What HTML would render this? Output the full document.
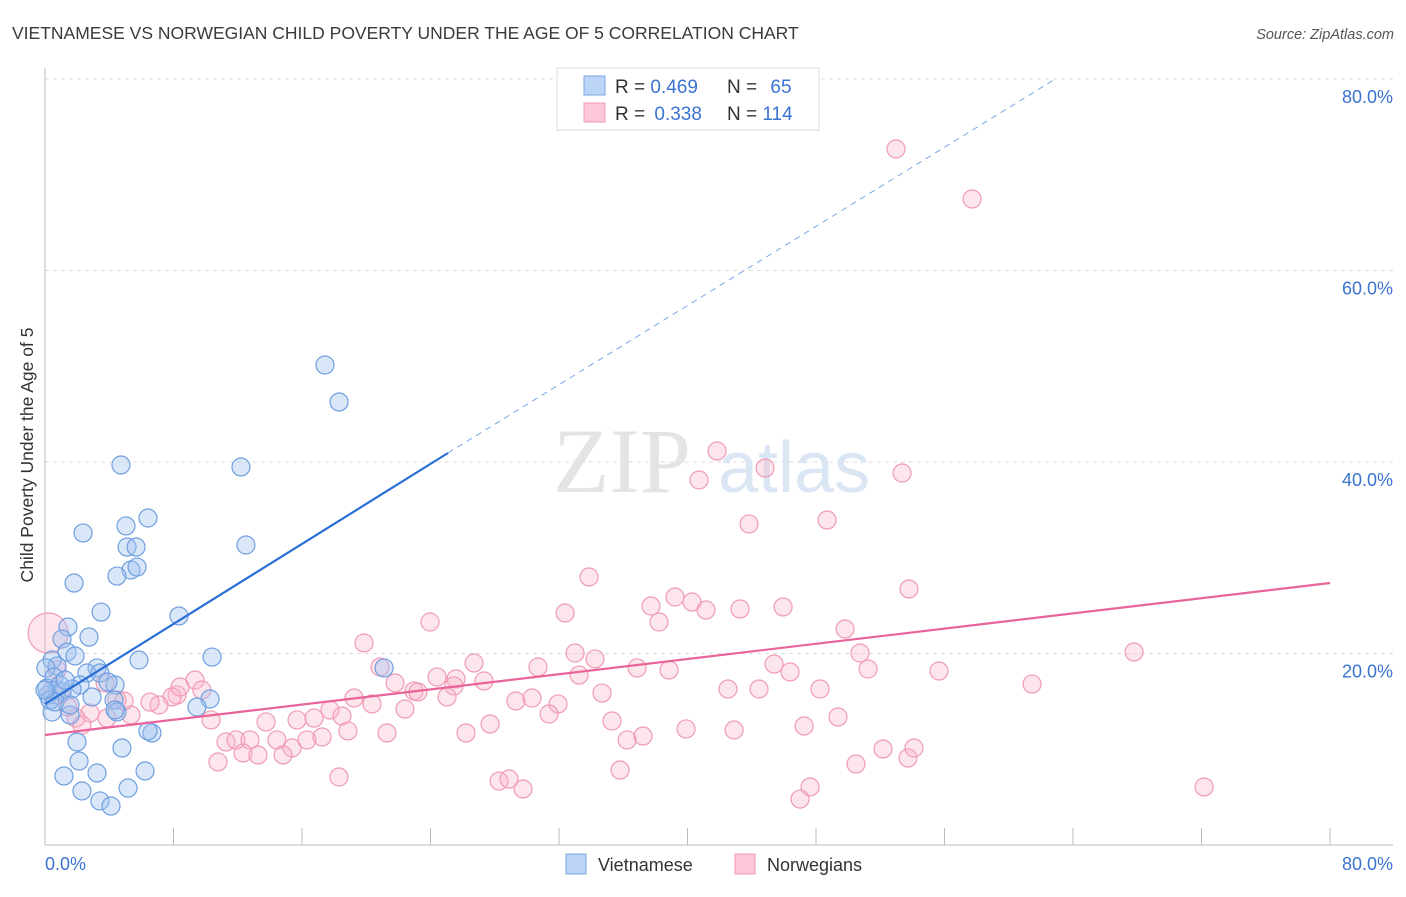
<!DOCTYPE html>
<html><head><meta charset="utf-8"><style>
body{margin:0;background:#fff;font-family:"Liberation Sans",sans-serif}
</style></head><body>
<svg id="chart" width="1406" height="892" xmlns="http://www.w3.org/2000/svg" font-family="Liberation Sans, sans-serif">
<text x="12" y="39" font-size="17.5" fill="#3a3a3a">VIETNAMESE VS NORWEGIAN CHILD POVERTY UNDER THE AGE OF 5 CORRELATION CHART</text>
<text x="1394" y="39" font-size="14.5" fill="#555" font-style="italic" text-anchor="end">Source: ZipAtlas.com</text>
<g id="grid"></g>
<g><text x="553" y="492" font-size="92" fill="#e4e4e4" font-family="Liberation Serif, serif">ZIP</text><text x="718" y="492" font-size="72" fill="#dbe6f5">atlas</text></g>
<g id="axes"></g>
<g id="marks"></g>
<g id="trends"></g>
<text transform="translate(33,455) rotate(-90)" font-size="17.5" fill="#333" text-anchor="middle">Child Poverty Under the Age of 5</text>
<g>
<rect x="557" y="68" width="262" height="62" fill="#fff" stroke="#ddd"/>
<rect x="584" y="76" width="21" height="19" fill="#bcd4f6" stroke="#7aa6e6"/>
<rect x="584" y="103" width="21" height="19" fill="#fcc8d8" stroke="#f09ab6"/>
<text x="615" y="93" font-size="19" fill="#333">R = <tspan fill="#3b73d1">0.469</tspan></text>
<text x="727" y="93" font-size="19" fill="#333">N = <tspan fill="#3b73d1" dx="8">65</tspan></text>
<text x="615" y="120" font-size="19" fill="#333">R = <tspan fill="#3b73d1" dx="4">0.338</tspan></text>
<text x="727" y="120" font-size="19" fill="#333">N = <tspan fill="#3b73d1">114</tspan></text>
</g>
<g>
<rect x="566" y="854" width="20" height="20" fill="#bcd4f6" stroke="#7aa6e6"/>
<text x="598" y="871" font-size="18" fill="#333">Vietnamese</text>
<rect x="735" y="854" width="20" height="20" fill="#fcc8d8" stroke="#f09ab6"/>
<text x="767" y="871" font-size="18" fill="#333">Norwegians</text>
</g>
</svg>
<script>
const blueX=[17.43,18.31,4.73,12.20,12.51,6.41,5.04,2.37,5.11,5.67,5.35,5.73,4.48,1.81,3.49,8.34,1.43,1.06,2.74,1.37,1.87,10.40,5.85,21.11,0.44,0.75,3.24,0.06,2.61,3.42,0.56,2.18,4.36,3.92,0.75,1.68,0.19,1.06,2.93,10.27,4.30,9.46,0.44,4.48,1.56,6.66,6.41,1.99,4.79,2.12,1.18,3.24,6.23,2.30,5.17,3.42,4.11,0.12,0.93,0.31,0.62,1.25,4.36,1.56,0.0];
const blueY=[50.13,46.27,39.69,39.48,31.33,34.15,33.32,32.59,31.12,31.12,28.72,29.03,28.09,27.36,24.33,23.92,22.77,21.51,21.72,20.15,19.74,19.63,19.32,18.49,19.32,18.69,18.49,18.49,17.96,17.96,17.55,16.71,16.71,17.02,16.19,16.29,15.67,15.98,15.46,15.25,15.14,14.41,13.89,13.89,13.58,11.70,11.91,10.76,10.13,8.77,7.21,7.52,7.73,5.64,5.95,4.60,4.07,16.40,16.71,15.14,14.94,17.23,14.10,14.62,16.19];
const pinkX=[52.98,57.72,41.84,44.83,53.36,40.72,43.83,48.69,33.87,53.79,32.38,39.22,37.73,40.28,41.15,43.27,45.95,23.97,38.23,49.81,19.86,33.00,34.24,50.74,67.80,20.86,26.71,30.69,33.25,36.86,38.85,45.39,46.38,51.24,55.66,21.79,24.41,25.59,27.33,22.97,25.46,23.22,34.68,42.52,44.45,48.25,61.45,19.24,20.36,25.03,29.32,30.32,22.41,31.94,31.38,17.74,16.75,18.49,13.76,10.34,15.69,21.29,18.86,26.21,35.30,27.71,49.37,39.91,42.90,47.26,36.24,37.23,14.44,11.27,11.89,12.76,15.38,16.31,17.25,12.33,13.26,14.82,10.77,53.73,52.17,54.10,50.49,35.80,18.30,28.27,28.89,29.76,47.63,47.01,72.16,9.34,9.77,8.22,7.91,7.10,6.54,4.48,5.35,4.92,3.86,2.80,1.93,1.43,2.30,0.93,0.44,0.19,0.75,3.74,8.41];
const pinkY=[72.69,67.47,41.15,39.37,38.85,38.12,33.53,33.94,27.99,26.74,24.23,25.90,24.96,25.38,24.54,24.65,24.86,23.29,23.29,22.56,21.10,20.05,19.43,20.05,20.16,18.59,19.01,18.59,17.75,18.49,18.28,18.90,18.07,18.38,18.17,16.92,17.55,17.34,17.13,16.08,16.61,15.98,15.87,16.29,16.29,16.29,16.81,15.35,14.73,15.46,15.04,15.35,14.20,14.73,13.68,14.10,13.26,13.47,12.85,13.06,13.06,11.70,11.91,11.70,12.95,12.64,13.37,12.12,12.01,12.43,10.97,11.38,10.97,10.76,10.97,10.97,10.13,10.97,11.28,9.61,9.40,9.40,8.67,9.09,10.03,10.13,8.46,7.83,7.10,6.68,6.89,5.85,6.06,4.80,6.06,17.23,16.19,15.67,15.46,14.62,14.93,15.14,13.58,15.04,13.26,13.79,13.26,14.41,12.53,15.67,16.19,22.14,18.28,16.92,16.50];
const yTicks=[20,40,60,80];
const yTickLabels=["20.0%","40.0%","60.0%","80.0%"];
const xTicks=[0,8,16,24,32,40,48,56,64,72,80];
const blueTrend=[[0,14.73],[25.09,40.94]];
const blueTrendExt=[[25.09,40.94],[62.9,80]];
const pinkTrend=[[0,11.49],[80,27.36]];
const NS="http://www.w3.org/2000/svg";
const X0=45,X1=1330,Y0=845,Y1=79;
const sx=v=>X0+(v/80)*(X1-X0);
const sy=v=>Y0-(v/80)*(Y0-Y1);
function mk(tag,attrs,parent){const e=document.createElementNS(NS,tag);for(const k in attrs)e.setAttribute(k,attrs[k]);parent.appendChild(e);return e;}
const grid=document.getElementById('grid'),axes=document.getElementById('axes'),marks=document.getElementById('marks'),trends=document.getElementById('trends');
yTicks.forEach((t,i)=>{
  const l=mk('line',{x1:X0,x2:1393,y1:sy(t),y2:sy(t),stroke:'#dcdcdc','stroke-dasharray':'4,4'},grid);
  
  
  const tx=mk('text',{x:1393,y:sy(t)+24,'font-size':18,fill:'#3b73d1','text-anchor':'end'},axes);
  tx.textContent=yTickLabels[i];
  
  
});
const yl=mk('line',{x1:X0,x2:X0,y1:68,y2:Y0,stroke:'#bbb'},axes);


const xl=mk('line',{x1:X0,x2:1393,y1:Y0,y2:Y0,stroke:'#bbb'},axes);


xTicks.forEach(t=>{
  const tk=mk('line',{x1:sx(t),x2:sx(t),y1:828,y2:Y0,stroke:'#bbb'},axes);
  
  
});
const xa=mk('text',{x:X0,y:870,'font-size':18,fill:'#3b73d1'},axes);xa.textContent='0.0%';


const xb=mk('text',{x:1393,y:870,'font-size':18,fill:'#3b73d1','text-anchor':'end'},axes);xb.textContent='80.0%';


pinkX.forEach((v,i)=>{
  const c=mk('circle',{cx:sx(v),cy:sy(pinkY[i]),r:(i===111?20:9),fill:'rgba(248,180,200,0.35)',stroke:'#f09ab6','stroke-width':1.2},marks);
  
  
});
blueX.forEach((v,i)=>{
  const c=mk('circle',{cx:sx(v),cy:sy(blueY[i]),r:9,fill:'rgba(160,196,240,0.4)',stroke:'#6f9fe0','stroke-width':1.2},marks);
  
  
});
const bt=mk('line',{x1:sx(blueTrend[0][0]),y1:sy(blueTrend[0][1]),x2:sx(blueTrend[1][0]),y2:sy(blueTrend[1][1]),stroke:'#2a6fd6','stroke-width':2.2},trends);


const be=mk('line',{x1:sx(blueTrendExt[0][0]),y1:sy(blueTrendExt[0][1]),x2:sx(blueTrendExt[1][0]),y2:sy(blueTrendExt[1][1]),stroke:'#7aa6e6','stroke-width':1,'stroke-dasharray':'6,5'},trends);


const pt=mk('line',{x1:sx(pinkTrend[0][0]),y1:sy(pinkTrend[0][1]),x2:sx(pinkTrend[1][0]),y2:sy(pinkTrend[1][1]),stroke:'#e8649a','stroke-width':2.2},trends);


</script>
</body></html>
